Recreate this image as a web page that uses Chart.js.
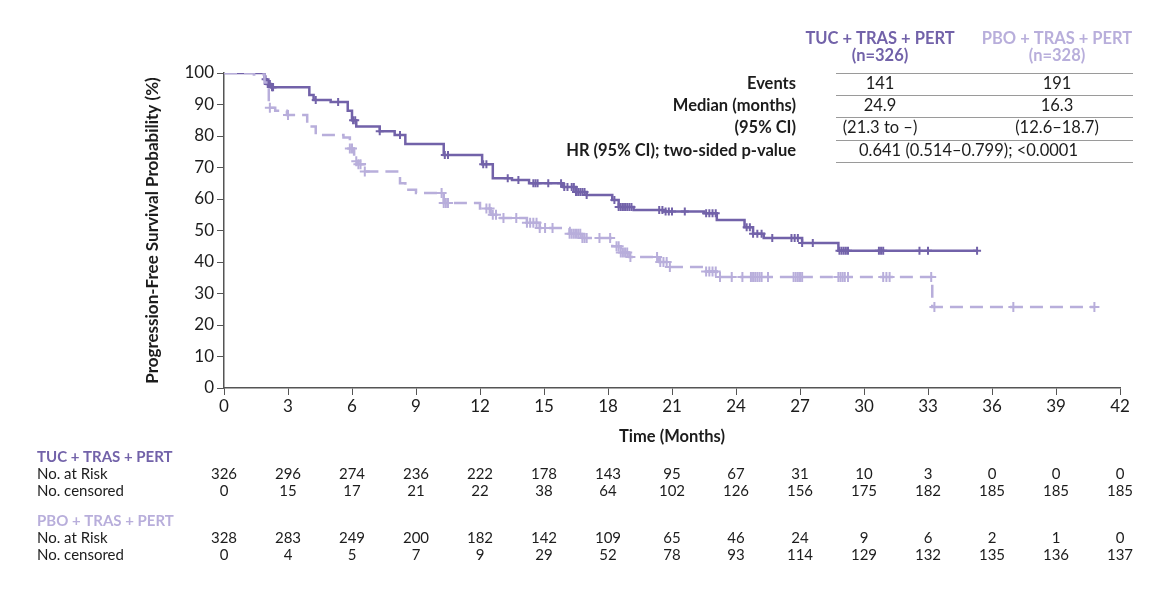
<!DOCTYPE html>
<html>
<head>
<meta charset="utf-8">
<script src="https://cdn.jsdelivr.net/npm/chart.js@4/dist/chart.umd.min.js"></script>
<style>
  html, body { margin: 0; padding: 0; background: #fff; }
  #wrap { width: 1168px; height: 604px; position: relative; }
</style>
</head>
<body>
<div id="wrap"><canvas id="kmChart" width="1168" height="604"></canvas></div>
<script>
// --- data ---
const months = [0, 3, 6, 9, 12, 15, 18, 21, 24, 27, 30, 33, 36, 39, 42];

const tucAtRisk   = [326, 296, 274, 236, 222, 178, 143, 95, 67, 31, 10, 3, 0, 0, 0];
const tucCensored = [0, 15, 17, 21, 22, 38, 64, 102, 126, 156, 175, 182, 185, 185, 185];
const pboAtRisk   = [328, 283, 249, 200, 182, 142, 109, 65, 46, 24, 9, 6, 2, 1, 0];
const pboCensored = [0, 4, 5, 7, 9, 29, 52, 78, 93, 114, 129, 132, 135, 136, 137];

// KM steps: time (months) where curve drops, survival (%) after drop
const tucTime = [0, 1.9, 2.0, 2.2, 4.0, 4.2, 5.0, 5.8, 6.0, 6.2, 7.3, 8.0, 8.5, 10.3, 12.1, 12.6, 13.5, 14.3, 15.9, 16.5, 17.0, 18.2, 18.5, 19.2, 20.6, 22.5, 23.1, 24.4, 24.8, 25.3, 27.1, 28.8, 35.3];
const tucSurv = [100, 98, 96.5, 95.5, 93, 91.4, 90.8, 88, 85, 83, 81.5, 80.3, 77.5, 74, 71, 66.6, 66, 65, 63.8, 62.2, 61.3, 59.7, 57.5, 56.5, 56, 55.5, 53.3, 51, 49, 47.6, 46, 43.6, 43.6];
const tucCensorTime = [1.95, 2.05, 2.1, 2.15, 2.25, 2.3, 4.3, 5.35, 6.05, 6.15, 7.3, 8.25, 10.35, 10.5, 12.15, 12.3, 13.3, 13.8, 14.5, 14.6, 14.7, 15.2, 15.8, 15.95, 16.1, 16.3, 16.4, 16.5, 16.6, 16.7, 16.8, 16.9, 17.0, 18.3, 18.5, 18.6, 18.7, 18.8, 18.9, 19.0, 19.1, 20.4, 20.55, 20.7, 20.85, 21.0, 21.6, 22.6, 22.75, 22.9, 23.05, 24.5, 24.65, 24.8, 25.0, 25.2, 25.7, 26.6, 26.75, 26.9, 27.1, 27.6, 28.85, 28.95, 29.05, 29.15, 29.25, 30.7, 30.8, 30.9, 32.6, 33.0, 35.3];

const pboTime = [0, 1.4, 1.9, 2.1, 2.4, 2.95, 3.9, 4.3, 5.6, 5.9, 6.1, 6.3, 6.6, 8.25, 8.5, 9.0, 10.3, 12.0, 12.5, 12.8, 14.2, 14.8, 16.2, 16.8, 18.2, 18.6, 19.0, 20.4, 20.9, 22.5, 23.1, 33.2, 40.8];
const pboSurv = [100, 99.5, 97, 89, 88, 86.7, 83, 80.3, 79.5, 76, 72, 71, 68.7, 65, 62.9, 61.9, 58.7, 57, 55, 54, 52.5, 50.8, 49, 47.6, 45, 43, 41.6, 40, 38.4, 37, 35.2, 25.7, 25.7];
const pboCensorTime = [2.15, 3.0, 5.9, 6.0, 6.2, 6.3, 6.4, 6.6, 10.2, 10.3, 10.4, 10.5, 12.3, 12.45, 12.6, 12.75, 13.1, 13.7, 14.2, 14.35, 14.5, 14.65, 14.8, 15.05, 15.4, 16.2, 16.3, 16.4, 16.5, 16.6, 16.7, 16.8, 16.9, 17.0, 17.6, 18.1, 18.4, 18.5, 18.6, 18.7, 18.8, 18.9, 19.05, 20.3, 20.45, 20.6, 20.75, 20.9, 22.6, 22.75, 22.9, 23.05, 23.25, 23.8, 24.3, 24.7, 24.8, 24.9, 25.0, 25.1, 25.2, 25.5, 26.7, 26.8, 26.9, 27.0, 27.1, 28.8, 28.9, 29.0, 29.1, 29.25, 30.9, 31.05, 31.2, 33.15, 33.3, 37.0, 40.8];

const armLabels = ["TUC + TRAS + PERT", "PBO + TRAS + PERT"];
const armN = ["(n=326)", "(n=328)"];
const statRows = ["Events", "Median (months)", "(95% CI)", "HR (95% CI); two-sided p-value"];
const statTuc = ["141", "24.9", "(21.3 to \u2013)"];
const statPbo = ["191", "16.3", "(12.6\u201318.7)"];
const hrText = "0.641 (0.514\u20130.799); <0.0001";

const tucColor = '#7262a9';
const pboColor = '#b8aedb';
const textColor = '#1c1c1c';
const FONT = 'Lato, "Open Sans", sans-serif';

function survAt(times, surv, t) {
  let v = surv[0];
  for (let i = 0; i < times.length; i++) {
    if (times[i] <= t) v = surv[i];
  }
  return v;
}

const tucLine = tucTime.map((t, i) => ({ x: t, y: tucSurv[i] }));
const pboLine = pboTime.map((t, i) => ({ x: t, y: pboSurv[i] }));
const tucMarks = tucCensorTime.map(t => ({ x: t, y: survAt(tucTime, tucSurv, t) }));
const pboMarks = pboCensorTime.map(t => ({ x: t, y: survAt(pboTime, pboSurv, t) }));

// tables and axis titles drawn on top of the chart
const extrasPlugin = {
  id: 'extras',
  afterDraw(chart) {
    const ctx = chart.ctx;
    const xs = chart.scales.x;
    const area = chart.chartArea;
    ctx.save();

    // axis titles
    ctx.fillStyle = textColor;
    ctx.font = 'bold 16.5px ' + FONT;
    ctx.textAlign = 'center';
    ctx.textBaseline = 'middle';
    ctx.fillText('Time (Months)', (area.left + area.right) / 2, 437);
    ctx.save();
    ctx.translate(153, (area.top + area.bottom) / 2);
    ctx.rotate(-Math.PI / 2);
    ctx.font = 'bold 17px ' + FONT;
    ctx.fillText('Progression-Free Survival Probability (%)', 0, 0);
    ctx.restore();

    // stats table top right
    const col1 = 880, col2 = 1057, lineL = 836, lineR = 1133;
    ctx.font = 'bold 16.5px ' + FONT;
    ctx.fillStyle = tucColor;
    ctx.fillText(armLabels[0], col1, 39);
    ctx.fillText(armN[0], col1, 56);
    ctx.fillStyle = pboColor;
    ctx.fillText(armLabels[1], col2, 39);
    ctx.fillText(armN[1], col2, 56);

    const rowY = [84, 106, 128, 151];
    const lineY = [73, 95, 117, 140, 162];
    ctx.strokeStyle = '#9a9a9a';
    ctx.lineWidth = 1;
    lineY.forEach(y => {
      ctx.beginPath();
      ctx.moveTo(lineL, y + 0.5);
      ctx.lineTo(lineR, y + 0.5);
      ctx.stroke();
    });
    ctx.fillStyle = textColor;
    statRows.forEach((lab, i) => {
      ctx.font = 'bold 16.5px ' + FONT;
      ctx.textAlign = 'right';
      ctx.fillText(lab, 796, rowY[i]);
      ctx.font = '16.5px ' + FONT;
      ctx.textAlign = 'center';
      if (i < 3) {
        ctx.fillText(statTuc[i], col1, rowY[i]);
        ctx.fillText(statPbo[i], col2, rowY[i]);
      } else {
        ctx.fillText(hrText, (col1 + col2) / 2, rowY[i]);
      }
    });

    // number at risk table
    const groups = [
      { label: armLabels[0], color: tucColor, y: 457, risk: tucAtRisk, cens: tucCensored },
      { label: armLabels[1], color: pboColor, y: 521, risk: pboAtRisk, cens: pboCensored }
    ];
    groups.forEach(g => {
      ctx.textAlign = 'left';
      ctx.font = 'bold 15px ' + FONT;
      ctx.fillStyle = g.color;
      ctx.fillText(g.label, 37, g.y);
      ctx.font = '15px ' + FONT;
      ctx.fillStyle = textColor;
      ctx.fillText('No. at Risk', 37, g.y + 17);
      ctx.fillText('No. censored', 37, g.y + 34);
      ctx.textAlign = 'center';
      months.forEach((m, i) => {
        const px = xs.getPixelForValue(m);
        ctx.fillText(String(g.risk[i]), px, g.y + 17);
        ctx.fillText(String(g.cens[i]), px, g.y + 34);
      });
    });

    ctx.restore();
  }
};

const ctx = document.getElementById('kmChart').getContext('2d');
new Chart(ctx, {
  type: 'scatter',
  data: {
    datasets: [
      {
        label: 'PBO + TRAS + PERT',
        data: pboLine,
        showLine: true,
        stepped: 'before',
        borderColor: pboColor,
        borderWidth: 2.5,
        borderDash: [13, 7],
        pointRadius: 0,
        fill: false
      },
      {
        label: 'PBO censored',
        data: pboMarks,
        showLine: false,
        pointStyle: 'cross',
        pointRadius: 5,
        borderColor: pboColor,
        backgroundColor: pboColor,
        pointBorderWidth: 2
      },
      {
        label: 'TUC + TRAS + PERT',
        data: tucLine,
        showLine: true,
        stepped: 'before',
        borderColor: tucColor,
        borderWidth: 2.5,
        pointRadius: 0,
        fill: false
      },
      {
        label: 'TUC censored',
        data: tucMarks,
        showLine: false,
        pointStyle: 'cross',
        pointRadius: 4,
        borderColor: tucColor,
        backgroundColor: tucColor,
        pointBorderWidth: 2
      }
    ]
  },
  options: {
    responsive: false,
    animation: false,
    layout: { padding: { top: 73, right: 48, left: 0, bottom: 0 } },
    plugins: {
      legend: { display: false },
      tooltip: { enabled: false }
    },
    scales: {
      x: {
        type: 'linear',
        min: 0,
        max: 42,
        afterFit: s => { s.height = 216; },
        ticks: {
          stepSize: 3,
          color: textColor,
          font: { family: FONT, size: 17 },
          padding: 1
        },
        grid: { drawOnChartArea: false, drawTicks: true, tickLength: 7, color: '#555' },
        border: { color: '#555', width: 1.5 }
      },
      y: {
        min: 0,
        max: 100,
        afterFit: s => { s.width = 224; },
        ticks: {
          stepSize: 10,
          color: textColor,
          font: { family: FONT, size: 17 },
          padding: 3
        },
        grid: { drawOnChartArea: false, drawTicks: true, tickLength: 7, color: '#555' },
        border: { color: '#555', width: 1.5 }
      }
    }
  },
  plugins: [extrasPlugin]
});
</script>
</body>
</html>
